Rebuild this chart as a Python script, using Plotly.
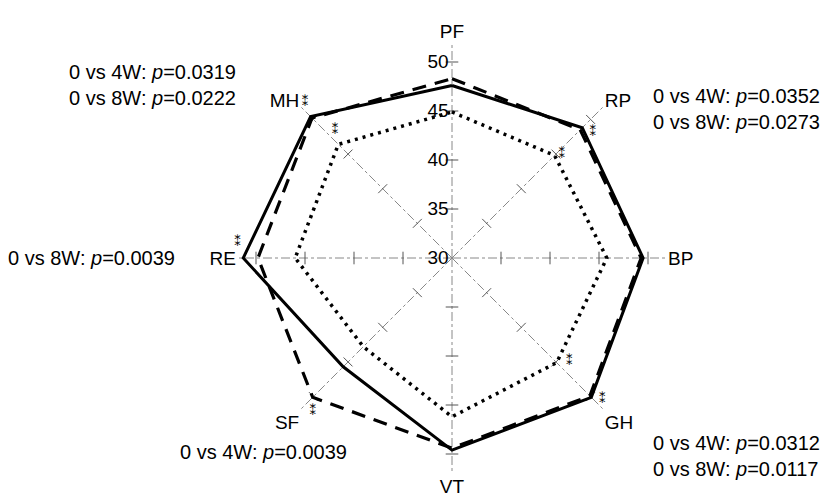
import plotly.graph_objects as go

# ---- data ----
categories = ["PF", "RP", "BP", "GH", "VT", "SF", "RE", "MH"]
week0 = [44.9, 44.8, 45.8, 45.1, 46.2, 42.8, 46.0, 46.4]   # dotted
week4 = [48.3, 48.5, 49.3, 49.9, 49.4, 50.1, 49.8, 50.2]   # dashed
week8 = [47.6, 48.8, 49.5, 50.1, 49.6, 45.7, 51.3, 50.4]   # solid
radial_ticks = [30, 35, 40, 45, 50]

# significance markers (angle in degrees clockwise from PF, radius in scale units)
star_theta = [316.5, 317.3, 48.4, 46.6, 133.4, 131.6, 222.1, 274.0]
star_r = [51.8, 47.6, 49.2, 45.4, 51.1, 46.0, 51.2, 51.95]

FONT = "Liberation Sans, Arial, Helvetica, sans-serif"
angles = [i * 45 for i in range(len(categories))]

W, H = 825, 503
cx, cy, R = 452, 258, 215.6


def closed(v):
    return list(v) + [v[0]]


fig = go.Figure()

# tick crosses on every spoke
tk_theta, tk_r, tk_ang = [], [], []
for a in angles:
    for t in radial_ticks[1:]:
        tk_theta.append(a)
        tk_r.append(t)
        tk_ang.append(a)
fig.add_trace(go.Scatterpolar(
    r=tk_r, theta=tk_theta, mode="markers", hoverinfo="skip",
    marker=dict(symbol="line-ew", size=9, angle=tk_ang,
                line=dict(color="#555", width=1)),
))

fig.add_trace(go.Scatterpolar(
    r=closed(week0), theta=closed(angles), mode="lines", name="0W",
    line=dict(color="black", width=3.5, dash="3px,5px"),
))
fig.add_trace(go.Scatterpolar(
    r=closed(week4), theta=closed(angles), mode="lines", name="4W",
    line=dict(color="black", width=3.2, dash="14px,9px"),
))
fig.add_trace(go.Scatterpolar(
    r=closed(week8), theta=closed(angles), mode="lines", name="8W",
    line=dict(color="black", width=3),
))

fig.add_trace(go.Scatterpolar(
    r=star_r, theta=star_theta, mode="text", text=["\u2051"] * len(star_r),
    textfont=dict(family="DejaVu Sans", size=13, color="black"),
    cliponaxis=False, hoverinfo="skip",
))

fig.update_layout(
    width=W, height=H,
    margin=dict(l=0, r=0, t=0, b=0),
    paper_bgcolor="white",
    showlegend=False,
    font=dict(family=FONT, size=19, color="black"),
    polar=dict(
        domain=dict(x=[(cx - R) / W, (cx + R) / W],
                    y=[(H - cy - R) / H, (H - cy + R) / H]),
        bgcolor="white",
        angularaxis=dict(
            direction="clockwise", rotation=90,
            tickmode="array", tickvals=angles, ticktext=categories,
            showline=False, showgrid=True, gridcolor="#888",
            gridwidth=1, griddash="dashdot", ticks="",
            tickfont=dict(family=FONT, size=19, color="black"),
        ),
        radialaxis=dict(
            range=[30, 52], angle=90, tickangle=90,
            tickmode="array", tickvals=radial_ticks,
            showgrid=False, showline=False, ticks="",
            tickfont=dict(family=FONT, size=19, color="black"),
            side="counterclockwise",
        ),
    ),
)

ann_font = dict(family=FONT, size=20, color="black")
# (text, anchor x in px, centre y in px, anchor side, text alignment)
notes = [
    ("0 vs 4W: <i>p</i>=0.0319<br>0 vs 8W: <i>p</i>=0.0222", 238, 85, "right", "right"),
    ("0 vs 4W: <i>p</i>=0.0352<br>0 vs 8W: <i>p</i>=0.0273", 822, 109, "right", "left"),
    ("0 vs 8W: <i>p</i>=0.0039", 177, 258, "right", "right"),
    ("0 vs 4W: <i>p</i>=0.0039", 349, 452, "right", "right"),
    ("0 vs 4W: <i>p</i>=0.0312<br>0 vs 8W: <i>p</i>=0.0117", 822, 456, "right", "left"),
]
for txt, x, y, side, al in notes:
    fig.add_annotation(
        text=txt, x=x / W, y=1 - y / H,
        xref="paper", yref="paper",
        xanchor=side, yanchor="middle", align=al, showarrow=False,
        font=ann_font,
    )

fig.write_html(
    "out.html",
    config={"displayModeBar": False},
    post_script="document.body.style.margin='0';document.body.style.overflow='hidden';",
)
